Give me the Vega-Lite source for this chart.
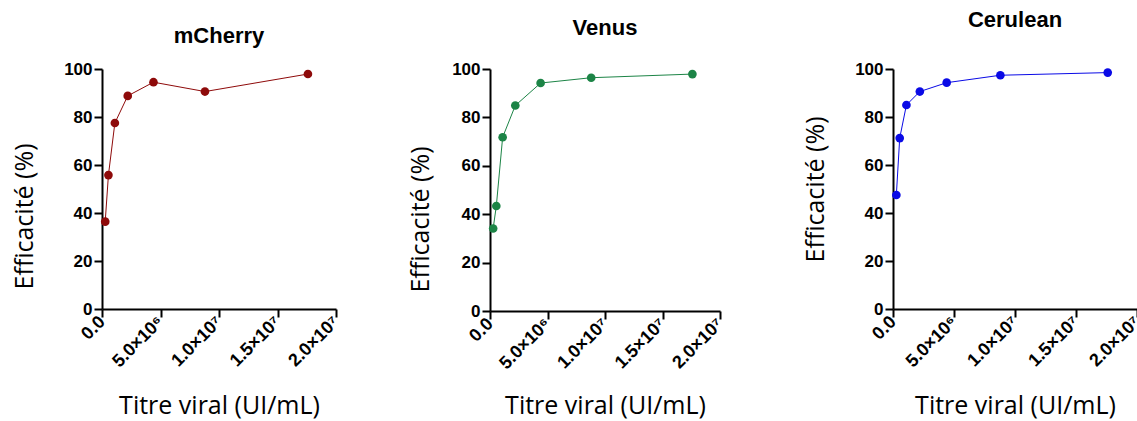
{
  "$schema": "https://vega.github.io/schema/vega-lite/v6.json",
  "padding": {"left": 12, "top": 9, "right": 0, "bottom": 0},
  "background": "white",
  "bounds": "flush",
  "spacing": 154,
  "config": {
    "view": {"stroke": null},
    "axis": {
      "domainColor": "black", "domainWidth": 2,
      "tickColor": "black", "tickWidth": 2, "tickSize": 8,
      "labelFont": "Liberation Sans", "labelFontWeight": "bold", "labelFontSize": 17, "labelColor": "black",
      "labelOverlap": false,
      "titleFont": "Open Sans", "titleFontSize": 25, "titleFontWeight": "normal", "titleColor": "black",
      "grid": false
    },
    "title": {"font": "Liberation Sans", "fontSize": 22, "fontWeight": "bold", "color": "black", "anchor": "middle"}
  },
  "datasets": {
    "d": [
      {"protein": "mCherry", "titre": 275000, "eff": 36.4},
      {"protein": "mCherry", "titre": 550000, "eff": 55.8},
      {"protein": "mCherry", "titre": 1100000, "eff": 77.5},
      {"protein": "mCherry", "titre": 2200000, "eff": 88.8},
      {"protein": "mCherry", "titre": 4400000, "eff": 94.5},
      {"protein": "mCherry", "titre": 8800000, "eff": 90.6},
      {"protein": "mCherry", "titre": 17600000, "eff": 97.9},
      {"protein": "Venus", "titre": 275000, "eff": 34.1},
      {"protein": "Venus", "titre": 550000, "eff": 43.4},
      {"protein": "Venus", "titre": 1100000, "eff": 71.8},
      {"protein": "Venus", "titre": 2200000, "eff": 84.9},
      {"protein": "Venus", "titre": 4400000, "eff": 94.2},
      {"protein": "Venus", "titre": 8800000, "eff": 96.4},
      {"protein": "Venus", "titre": 17600000, "eff": 97.9},
      {"protein": "Cerulean", "titre": 275000, "eff": 47.5},
      {"protein": "Cerulean", "titre": 550000, "eff": 71.2},
      {"protein": "Cerulean", "titre": 1100000, "eff": 85.0},
      {"protein": "Cerulean", "titre": 2200000, "eff": 90.6},
      {"protein": "Cerulean", "titre": 4400000, "eff": 94.3},
      {"protein": "Cerulean", "titre": 8800000, "eff": 97.4},
      {"protein": "Cerulean", "titre": 17600000, "eff": 98.5}
    ]
  },
  "hconcat": [
    {
      "width": 234, "height": 240,
      "title": {"text": "mCherry", "offset": 12},
      "data": {"name": "d"},
      "transform": [{"filter": "datum.protein == 'mCherry'"}],
      "mark": {"type": "line", "color": "#8E0A0A", "strokeWidth": 1, "point": {"filled": true, "size": 75, "color": "#8E0A0A", "opacity": 1}},
      "encoding": {
        "x": {"field": "titre", "type": "quantitative", "scale": {"domain": [0, 20000000], "nice": false},
          "axis": {"title": "Titre viral (UI/mL)", "values": [0, 5000000, 10000000, 15000000, 20000000], "labelAngle": -45, "labelAlign": "right", "labelBaseline": "middle", "labelFontSize": 18, "titlePadding": 23,
            "labelExpr": "datum.value == 0 ? '0.0' : datum.value == 5000000 ? '5.0×10⁶' : datum.value == 10000000 ? '1.0×10⁷' : datum.value == 15000000 ? '1.5×10⁷' : '2.0×10⁷'"}},
        "y": {"field": "eff", "type": "quantitative", "scale": {"domain": [0, 100], "nice": false},
          "axis": {"title": "Efficacité (%)", "values": [0, 20, 40, 60, 80, 100], "titlePadding": 26, "titleY": 147}}
      }
    },
    {
      "bounds": "flush",
      "spacing": 173,
      "hconcat": [
        {
          "width": 230, "height": 242,
          "title": {"text": "Venus", "offset": 20},
          "data": {"name": "d"},
          "transform": [{"filter": "datum.protein == 'Venus'"}],
          "mark": {"type": "line", "color": "#1C8446", "strokeWidth": 1, "point": {"filled": true, "size": 75, "color": "#1C8446", "opacity": 1}},
          "encoding": {
            "x": {"field": "titre", "type": "quantitative", "scale": {"domain": [0, 20000000], "nice": false},
              "axis": {"title": "Titre viral (UI/mL)", "values": [0, 5000000, 10000000, 15000000, 20000000], "labelAngle": -45, "labelAlign": "right", "labelBaseline": "middle", "labelFontSize": 18, "titlePadding": 21,
                "labelExpr": "datum.value == 0 ? '0.0' : datum.value == 5000000 ? '5.0×10⁶' : datum.value == 10000000 ? '1.0×10⁷' : datum.value == 15000000 ? '1.5×10⁷' : '2.0×10⁷'"}},
            "y": {"field": "eff", "type": "quantitative", "scale": {"domain": [0, 100], "nice": false},
              "axis": {"title": "Efficacité (%)", "values": [0, 20, 40, 60, 80, 100], "titlePadding": 18, "titleY": 150}}
          }
        },
        {
          "width": 244, "height": 240,
          "title": {"text": "Cerulean", "offset": 28},
          "data": {"name": "d"},
          "transform": [{"filter": "datum.protein == 'Cerulean'"}],
          "mark": {"type": "line", "color": "#0A0AE6", "strokeWidth": 1, "point": {"filled": true, "size": 75, "color": "#0A0AE6", "opacity": 1}},
          "encoding": {
            "x": {"field": "titre", "type": "quantitative", "scale": {"domain": [0, 20000000], "nice": false},
              "axis": {"title": "Titre viral (UI/mL)", "values": [0, 5000000, 10000000, 15000000, 20000000], "labelAngle": -45, "labelAlign": "right", "labelBaseline": "middle", "labelFontSize": 18, "titlePadding": 23,
                "labelExpr": "datum.value == 0 ? '0.0' : datum.value == 5000000 ? '5.0×10⁶' : datum.value == 10000000 ? '1.0×10⁷' : datum.value == 15000000 ? '1.5×10⁷' : '2.0×10⁷'"}},
            "y": {"field": "eff", "type": "quantitative", "scale": {"domain": [0, 100], "nice": false},
              "axis": {"title": "Efficacité (%)", "values": [0, 20, 40, 60, 80, 100], "titlePadding": 26}}
          }
        }
      ]
    }
  ]
}
